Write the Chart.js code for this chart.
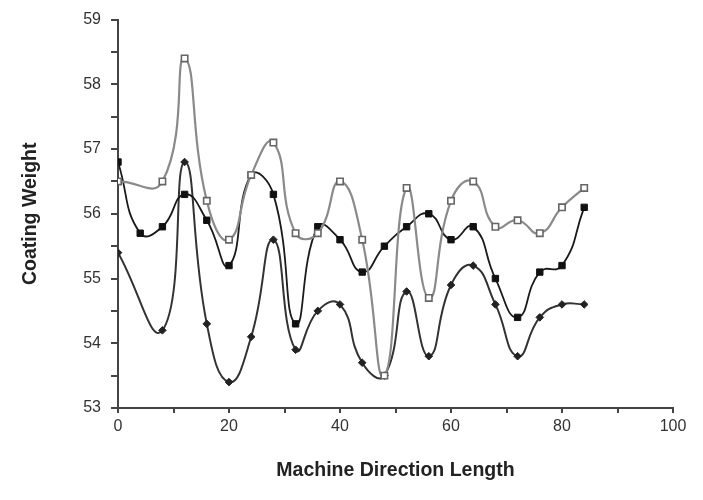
<!DOCTYPE html>
<html>
<head>
<meta charset="utf-8">
<script src="https://cdn.jsdelivr.net/npm/chart.js@4"></script>
<style>
  html, body { margin: 0; padding: 0; background: #fff; }
  #wrap { width: 703px; height: 500px; }
</style>
</head>
<body>
<div id="wrap"><canvas id="chart" width="703" height="500"></canvas></div>
<script>
// positions along the machine direction
const openX = [0, 8, 12, 16, 20, 24, 28, 32, 36, 40, 44, 48, 52, 56, 60, 64, 68, 72, 76, 80, 84];
const filledX = [0, 4, 8, 12, 16, 20, 24, 28, 32, 36, 40, 44, 48, 52, 56, 60, 64, 68, 72, 76, 80, 84];
const diamondX = [0, 8, 12, 16, 20, 24, 28, 32, 36, 40, 44, 48, 52, 56, 60, 64, 68, 72, 76, 80, 84];

// coating weights
const openY = [56.5, 56.5, 58.4, 56.2, 55.6, 56.6, 57.1, 55.7, 55.7, 56.5, 55.6, 53.5, 56.4, 54.7, 56.2, 56.5, 55.8, 55.9, 55.7, 56.1, 56.4];
const filledY = [56.8, 55.7, 55.8, 56.3, 55.9, 55.2, 56.6, 56.3, 54.3, 55.8, 55.6, 55.1, 55.5, 55.8, 56.0, 55.6, 55.8, 55.0, 54.4, 55.1, 55.2, 56.1];
const diamondY = [55.4, 54.2, 56.8, 54.3, 53.4, 54.1, 55.6, 53.9, 54.5, 54.6, 53.7, 53.5, 54.8, 53.8, 54.9, 55.2, 54.6, 53.8, 54.4, 54.6, 54.6];

const xTitle = "Machine Direction Length";
const yTitle = "Coating Weight";

function pts(xs, ys) {
  return xs.map((x, i) => ({ x: x, y: ys[i] }));
}

const font = "'Liberation Sans', Arial, Helvetica, sans-serif";

new Chart(document.getElementById('chart'), {
  type: 'line',
  data: {
    datasets: [
      {
        label: 'open',
        data: pts(openX, openY),
        borderColor: '#8a8a8a',
        borderWidth: 2.2,
        pointStyle: 'rect',
        pointRadius: 4.5,
        pointBackgroundColor: '#fff',
        pointBorderColor: '#666',
        pointBorderWidth: 1.6,
        tension: 0.5
      },
      {
        label: 'filled',
        data: pts(filledX, filledY),
        borderColor: '#1a1a1a',
        borderWidth: 1.8,
        pointStyle: 'rect',
        pointRadius: 4.5,
        pointBackgroundColor: '#111',
        pointBorderColor: '#111',
        pointBorderWidth: 1,
        tension: 0.5
      },
      {
        label: 'diamond',
        data: pts(diamondX, diamondY),
        borderColor: '#333',
        borderWidth: 2,
        pointStyle: 'rectRot',
        pointRadius: 3.8,
        pointBackgroundColor: '#222',
        pointBorderColor: '#222',
        pointBorderWidth: 1,
        tension: 0.5
      }
    ]
  },
  options: {
    responsive: false,
    animation: false,
    layout: { padding: { top: 8, right: 30, left: 0, bottom: 0 } },
    plugins: {
      legend: { display: false },
      tooltip: { enabled: false }
    },
    scales: {
      x: {
        type: 'linear',
        min: 0,
        max: 100,
        afterFit: s => { s.height = 92; },
        border: { display: true, color: '#444', width: 2 },
        grid: { drawOnChartArea: false, drawTicks: true, tickLength: 5, color: '#444', lineWidth: 2 },
        ticks: {
          stepSize: 10,
          autoSkip: false,
          maxRotation: 0,
          padding: 4,
          color: '#333',
          font: { family: font, size: 16 },
          callback: v => (v % 20 === 0 ? v : '')
        },
        title: {
          display: true,
          text: xTitle,
          color: '#222',
          font: { family: font, size: 19.5, weight: 'bold' },
          padding: { top: 4, bottom: 18 }
        }
      },
      y: {
        min: 53,
        max: 59,
        afterFit: s => { s.width = 118; },
        border: { display: true, color: '#444', width: 2 },
        grid: { drawOnChartArea: false, drawTicks: true, tickLength: 7, color: '#444', lineWidth: 2 },
        ticks: {
          stepSize: 0.5,
          autoSkip: false,
          padding: 10,
          color: '#333',
          font: { family: font, size: 16 },
          callback: v => (Number.isInteger(v) ? v : '')
        },
        title: {
          display: true,
          text: yTitle,
          color: '#222',
          font: { family: font, size: 19.5, weight: 'bold' },
          padding: { top: 19, bottom: 0 }
        }
      }
    }
  }
});
</script>
</body>
</html>
